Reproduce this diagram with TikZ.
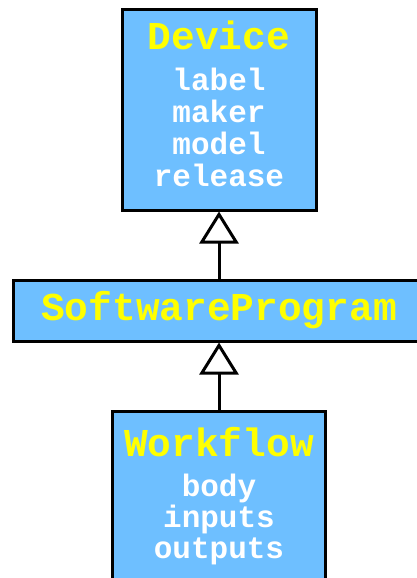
\documentclass[tikz,border=0pt]{standalone}
\usepackage{fontspec}
\newfontfamily\umlmono{Liberation Mono}
\usetikzlibrary{positioning, arrows.meta}

\definecolor{classblue}{RGB}{110,191,255}
\definecolor{classname}{RGB}{255,255,0}

\newcommand{\classtitle}[1]{{\fontsize{39.5}{40}\selectfont\color{classname}#1}}

\tikzset{
    classbox/.style={draw, line width=3pt, fill=classblue, text=white,
        font=\umlmono\bfseries\fontsize{31}{32}\selectfont, align=center},
    extends/.style={line width=3pt,
        -{Triangle[open, fill=white, length=32pt, width=39pt]}}
}

\begin{document}
\begin{tikzpicture}[x=1pt, y=-1pt, node distance=67pt]
        \useasboundingbox (0,0) rectangle (417,578);

        \node[classbox, minimum width=194pt, minimum height=200pt, text depth=12pt] (device) at (219,110)
            {\classtitle{Device}\\[9pt]label\\maker\\model\\release};
        \node[classbox, minimum width=411pt, minimum height=61pt, below = of device] (software)
            {\classtitle{SoftwareProgram}};
        \node[classbox, minimum width=213pt, minimum height=180pt, text depth=17pt, below = of software] (workflow)
            {\classtitle{Workflow}\\[8pt]body\\[-1pt]inputs\\[-1pt]outputs};

        \draw[extends] (software.north) -- (device.south);
        \draw[extends] (workflow.north) -- (software.south);
    \end{tikzpicture}
\end{document}
